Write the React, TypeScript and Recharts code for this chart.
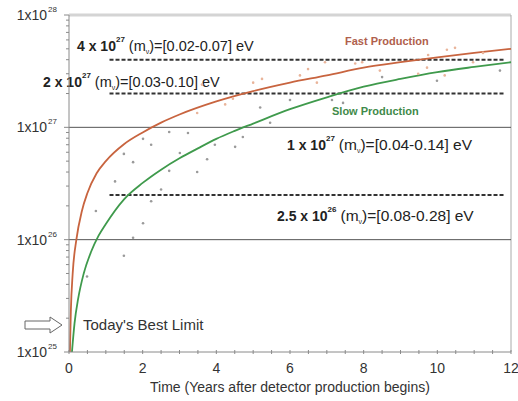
import React from 'react';
import {
  ComposedChart,
  Line,
  Scatter,
  XAxis,
  YAxis,
  ReferenceLine,
  Customized,
} from 'recharts';

// curves (time in years, sensitivity in years)
const fastTimes = [0.025, 0.05, 0.1, 0.2, 0.35, 0.5, 0.75, 1, 1.5, 2, 2.5, 3, 4, 5, 6, 7, 8, 9, 10, 11, 12];
const fastValues = [1e25, 2.3e25, 5e25, 1e26, 1.8e26, 2.6e26, 3.9e26, 5e26, 7.1e26, 9e26, 1.1e27, 1.3e27, 1.7e27, 2.1e27, 2.5e27, 2.9e27, 3.4e27, 3.8e27, 4.2e27, 4.6e27, 5e27];

const slowTimes = [0.08, 0.15, 0.25, 0.4, 0.6, 0.8, 1, 1.5, 2, 2.5, 3, 3.5, 4, 4.5, 5, 6, 7, 8, 9, 10, 11, 12];
const slowValues = [1e25, 1.8e25, 3e25, 5e25, 7.8e25, 1.08e26, 1.38e26, 2.3e26, 3.2e26, 4.2e26, 5.3e26, 6.5e26, 7.9e26, 9.3e26, 1.08e27, 1.45e27, 1.85e27, 2.3e27, 2.7e27, 3.1e27, 3.45e27, 3.8e27];

// faint scatter of simulated experiments
const grayDotTimes = [2.72, 3.23, 2.01, 2.23, 1.49, 1.74, 3.96, 4.51, 4.72, 3.01, 3.75, 2.72, 3.48, 1.25, 2.5, 2.23, 0.73, 2.01, 1.74, 1.49, 0.49, 6.0, 5.46, 7.14, 7.44, 5.19, 8.5, 9.99, 11.7];
const grayDotValues = [9.1e26, 8.9e26, 7.9e26, 7.0e26, 5.8e26, 4.9e26, 7.0e26, 6.7e26, 8.2e26, 5.9e26, 5.2e26, 4.1e26, 4.0e26, 3.3e26, 2.8e26, 2.2e26, 1.8e26, 1.4e26, 1.04e26, 7.2e25, 4.7e25, 1.75e27, 1.1e27, 1.75e27, 1.65e27, 1.5e27, 2.8e27, 2.6e27, 3.2e27];

const orangeDotTimes = [5.0, 5.24, 6.27, 6.49, 6.73, 7.77, 4.45, 4.24, 8.44, 9.48, 9.72, 10.2, 9.75, 10.26, 10.48, 10.97, 11.24, 3.48, 3.61, 6.95, 7.96];
const orangeDotValues = [2.5e27, 2.7e27, 2.9e27, 3.3e27, 2.5e27, 3.7e27, 1.8e27, 1.6e27, 3.2e27, 3.0e27, 3.4e27, 2.9e27, 4.4e27, 4.9e27, 5.1e27, 3.8e27, 4.6e27, 1.34e27, 2.4e27, 3.8e27, 3.8e27];

const xTicks = [0, 0.5, 1, 1.5, 2, 2.5, 3, 3.5, 4, 4.5, 5, 5.5, 6, 6.5, 7, 7.5, 8, 8.5, 9, 9.5, 10, 10.5, 11, 11.5, 12];
const yMajorTicks = [1e25, 1e26, 1e27, 1e28];
const yTicks = yMajorTicks.flatMap((m, i) =>
  i === yMajorTicks.length - 1 ? [m] : [1, 2, 3, 4, 5, 6, 7, 8, 9].map((k) => k * m)
);

const toPoints = (ts: number[], vs: number[]) => ts.map((t, i) => ({ t, v: vs[i] }));
const fastData = toPoints(fastTimes, fastValues);
const slowData = toPoints(slowTimes, slowValues);
const grayDots = toPoints(grayDotTimes, grayDotValues);
const orangeDots = toPoints(orangeDotTimes, orangeDotValues);

const FONT = '"Liberation Sans", Arial, Helvetica, sans-serif';
const AXIS = '#8a8a8a';

const YTick = (props: any) => {
  const { x, y, payload } = props;
  const v = payload.value;
  const exp = Math.round(Math.log10(v));
  const major = Math.abs(v - Math.pow(10, exp)) / v < 1e-6;
  if (!major) return <line x1={x - 3} x2={x} y1={y} y2={y} stroke={AXIS} />;
  return (
    <g>
      <line x1={x - 5} x2={x} y1={y} y2={y} stroke={AXIS} />
      <text x={x - 22} y={y + 5} textAnchor="end" fontSize={14} fill="#333" fontFamily={FONT}>
        1x10
      </text>
      <text x={x - 21} y={y - 3} fontSize={8} fill="#333" fontFamily={FONT}>
        {exp}
      </text>
    </g>
  );
};

const XTick = (props: any) => {
  const { x, y, payload } = props;
  const v = payload.value;
  const major = v % 2 === 0;
  return (
    <g>
      <line x1={x} x2={x} y1={y - 2} y2={y + 2} stroke={AXIS} />
      {major && (
        <text x={x} y={y + 21} textAnchor="middle" fontSize={14} fill="#333" fontFamily={FONT}>
          {v}
        </text>
      )}
    </g>
  );
};

const Dot = (props: any) => <circle cx={props.cx} cy={props.cy} r={1.3} fill={props.fill} />;

// "N x 10^e (m_nu)=[a-b] eV" labels
const MassLabel = ({ x, y, lead, exp, range, size = 15 }: any) => (
  <text x={x} y={y} fontFamily={FONT} fill="#222">
    <tspan fontSize={14} fontWeight="bold">{lead}</tspan>
    <tspan fontSize={8} fontWeight="bold" dy={-9}>{exp}</tspan>
    <tspan fontSize={size} dy={9} dx={4}>(m</tspan>
    <tspan fontSize={7} dy={3}>ν</tspan>
    <tspan fontSize={size} dy={-3}>)=[{range}] eV</tspan>
  </text>
);

const Annotations = () => (
  <g>
    <MassLabel x={77} y={51} lead="4 x 10" exp="27" range="0.02-0.07" size={14.5} />
    <MassLabel x={43} y={87} lead="2 x 10" exp="27" range="0.03-0.10" size={14.5} />
    <MassLabel x={287} y={150} lead="1 x 10" exp="27" range="0.04-0.14" size={15.5} />
    <MassLabel x={277} y={221} lead="2.5 x 10" exp="26" range="0.08-0.28" size={15.5} />
    <text x={345} y={45} fontSize={11} fontWeight="bold" fill="#b0604c" fontFamily={FONT}>
      Fast Production
    </text>
    <text x={332} y={115} fontSize={11} fontWeight="bold" fill="#3f8a4a" fontFamily={FONT}>
      Slow Production
    </text>
    <polygon
      points="25,321 50,321 50,317 62,325 50,333 50,329 25,329"
      fill="#fff"
      stroke="#666"
      strokeWidth={1}
    />
    <text x={83} y={330} fontSize={15} fill="#333" fontFamily={FONT}>
      Today's Best Limit
    </text>
    <text x={290} y={392} fontSize={14} textAnchor="middle" fill="#333" fontFamily={FONT}>
      Time (Years after detector production begins)
    </text>
  </g>
);

export default function App() {
  return (
    <div style={{ position: 'absolute', left: 0, top: 0, background: '#fff' }}>
      <ComposedChart width={518} height={401} margin={{ top: 15, right: 7, bottom: 0, left: 0 }}>
        <XAxis
          type="number"
          dataKey="t"
          domain={[0, 12]}
          ticks={xTicks}
          interval={0}
          height={49}
          tickSize={0}
          tickMargin={0}
          tickLine={false}
          axisLine={{ stroke: AXIS }}
          tick={<XTick />}
        />
        <YAxis
          type="number"
          dataKey="v"
          scale="log"
          domain={[1e25, 1e28]}
          allowDataOverflow
          ticks={yTicks}
          interval={0}
          width={69}
          tickSize={0}
          tickMargin={0}
          tickLine={false}
          axisLine={{ stroke: AXIS }}
          tick={<YTick />}
        />
        <ReferenceLine y={1e28} stroke="#d4d4d4" strokeWidth={3} />
        <ReferenceLine x={12} stroke="#aaa" />
        <ReferenceLine y={1e27} stroke="#555" />
        <ReferenceLine y={1e26} stroke="#555" />
        <ReferenceLine segment={[{ x: 1.1, y: 4e27 }, { x: 11.85, y: 4e27 }]} stroke="#333" strokeWidth={2} strokeDasharray="4 2" />
        <ReferenceLine segment={[{ x: 1.1, y: 2e27 }, { x: 11.85, y: 2e27 }]} stroke="#333" strokeWidth={2} strokeDasharray="4 2" />
        <ReferenceLine segment={[{ x: 1.1, y: 2.5e26 }, { x: 11.8, y: 2.5e26 }]} stroke="#333" strokeWidth={2} strokeDasharray="4 2" />
        <Scatter data={grayDots} dataKey="v" fill="#9a9a9a" shape={<Dot />} isAnimationActive={false} />
        <Scatter data={orangeDots} dataKey="v" fill="#e9b49a" shape={<Dot />} isAnimationActive={false} />
        <Line data={fastData} dataKey="v" type="monotone" stroke="#c8643f" strokeWidth={1.8} dot={false} isAnimationActive={false} />
        <Line data={slowData} dataKey="v" type="monotone" stroke="#3f9a4c" strokeWidth={1.8} dot={false} isAnimationActive={false} />
        <Customized component={<Annotations />} />
      </ComposedChart>
    </div>
  );
}
